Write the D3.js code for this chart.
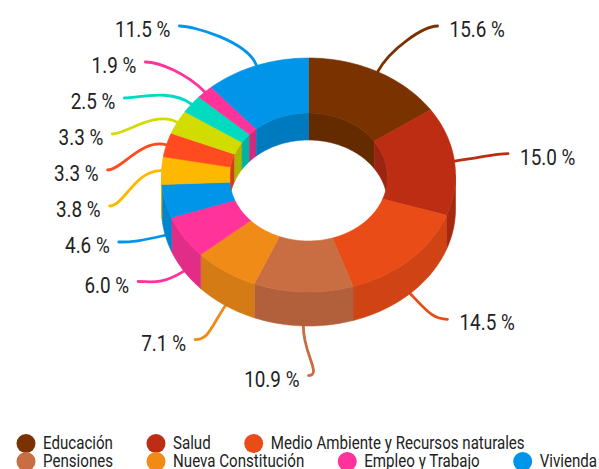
<!DOCTYPE html>
<html>
<head>
<meta charset="utf-8">
<script src="https://cdn.jsdelivr.net/npm/d3@7"></script>
<style>
body{margin:0;background:#fff;}
svg{display:block;font-family:Roboto,"Noto Sans",sans-serif;}
</style>
</head>
<body>
<svg id="chart" width="599" height="469"></svg>
<script>
// share of each slice in %, clockwise from 12 o'clock
var shares = [15.6, 15.0, 14.5, 10.9, 7.1, 6.0, 4.6, 3.8, 3.3, 3.3, 2.5, 1.9, 11.5];
// legend names (only the first rows of the legend fit in the picture)
var categories = ["Educación", "Salud", "Medio Ambiente y Recursos naturales",
                  "Pensiones", "Nueva Constitución", "Empleo y Trabajo", "Vivienda"];
var colors = ["#7a3300", "#bd2d13", "#ea4c17", "#c96d43", "#f08b18", "#ff3399", "#0095e8",
              "#ffb800", "#ff4b1f", "#d2dc00", "#00dac0", "#ff3399", "#0095e8"];

var svg = d3.select("#chart");
var cx = 308.5;
var outer = {rx: 147, ry: 117, cy: 175};
var inner = {rx: 79, ry: 64, cy: 177};
var depth = 34, innerDepth = 27;
var squeeze = 0.84;   // the font in the picture is a condensed one
var ink = "#222";

var color = d3.scaleOrdinal().domain(d3.range(shares.length)).range(colors);
var fmt = d3.format(".1f");

var pie = d3.pie().sort(null).value(function(d){ return d; });
var arcs = pie(shares);

var pt = function(a, e, dy)
{
    return [cx + e.rx * Math.sin(a), e.cy - e.ry * Math.cos(a) + (dy || 0)];
}
var arcPts = function(a0, a1, e, dy)
{
    var n = Math.max(2, Math.ceil(Math.abs(a1 - a0) * 40));
    return d3.range(n + 1).map(function(i){ return pt(a0 + (a1 - a0) * i / n, e, dy); });
}
var band = function(a0, a1, e, dy)
{
    return "M" + arcPts(a0, a1, e, 0).concat(arcPts(a1, a0, e, dy)).join("L") + "Z";
}

// ---- label layout: points on a circle round the donut, pushed apart per side
var lab = {cy: 177, rx: 201, ry: 197, top: 26, gap: 36};
var labels = arcs.map(function(d, i)
{
    var m = (d.startAngle + d.endAngle) / 2;
    var lower = Math.cos(m) < 0;
    return {
        i: i, m: m,
        side: Math.sin(m) >= 0 ? 1 : -1,
        start: pt(m, outer, lower ? depth : 0),
        y: Math.max(lab.top, lab.cy - lab.ry * Math.cos(m))
    };
});
[1, -1].forEach(function(side)
{
    var list = labels.filter(function(l){ return l.side == side; })
                     .sort(function(a, b){ return a.y - b.y; });
    for (var k = 1; k < list.length; k++)
    {
        list[k].y = Math.max(list[k].y, list[k - 1].y + lab.gap);
    }
});
labels.forEach(function(l)
{
    var t = (l.y - lab.cy) / lab.ry;
    l.x = cx + l.side * lab.rx * Math.sqrt(Math.max(0, 1 - t * t));
});

// leader lines go first, the donut covers their inner ends
var leaders = svg.append("g");
labels.forEach(function(l)
{
    var p0 = [l.x, l.y];
    var p1 = [l.x - l.side * 14, l.y];
    var p3 = l.start;
    var p2 = [p3[0] + Math.sin(l.m) * 26, p3[1] - Math.cos(l.m) * 26];
    var p = d3.path();
    p.moveTo(p0[0], p0[1]);
    p.bezierCurveTo(p1[0], p1[1], p2[0], p2[1], p3[0], p3[1]);
    leaders.append("path")
        .attr("d", p.toString())
        .attr("fill", "none")
        .attr("stroke", color(l.i))
        .attr("stroke-width", 2.8)
        .attr("stroke-linecap", "round");
});

// ---- donut
var donut = svg.append("g");
var HALF = Math.PI / 2;

// outer side wall (front half)
arcs.forEach(function(d, i)
{
    var a = Math.max(d.startAngle, HALF), b = Math.min(d.endAngle, 3 * HALF);
    if (a < b)
    {
        var c = d3.color(color(i)).darker(0.35).formatHex();
        donut.append("path").attr("d", band(a, b, outer, depth))
            .attr("fill", c).attr("stroke", c).attr("stroke-width", 0.6);
    }
});

// inner wall (back half of the hole)
arcs.forEach(function(d, i)
{
    [[0, HALF], [3 * HALF, 4 * HALF]].forEach(function(r)
    {
        var a = Math.max(d.startAngle, r[0]), b = Math.min(d.endAngle, r[1]);
        if (a < b)
        {
            var c = d3.color(color(i)).darker(0.55).formatHex();
            donut.append("path").attr("d", band(a, b, inner, innerDepth))
                .attr("fill", c).attr("stroke", c).attr("stroke-width", 0.6);
        }
    });
});

// top faces
arcs.forEach(function(d, i)
{
    var pts = arcPts(d.startAngle, d.endAngle, outer).concat(arcPts(d.endAngle, d.startAngle, inner));
    donut.append("path").attr("d", "M" + pts.join("L") + "Z")
        .attr("fill", color(i)).attr("stroke", color(i)).attr("stroke-width", 0.6);
});

// ---- percentage labels
labels.forEach(function(l)
{
    var tx = l.side > 0 ? l.x + 12 : l.x - 9;
    svg.append("g")
        .attr("transform", "translate(" + tx + "," + (l.y + 11) + ") scale(" + squeeze + ",1)")
        .append("text")
        .attr("text-anchor", l.side > 0 ? "start" : "end")
        .attr("font-size", 22.5)
        .attr("fill", ink)
        .text(fmt(shares[l.i]) + " %");
});

// ---- legend (flows into rows)
var legend = svg.append("g");
var lx = 16.5, row = 0, rowY = [443.5, 461.5];
categories.forEach(function(name, i)
{
    var item = legend.append("g");
    item.append("circle").attr("cx", 9.5).attr("cy", 0).attr("r", 9.5).attr("fill", color(i));
    var t = item.append("g")
        .attr("transform", "translate(26.5,5.5) scale(" + squeeze + ",1)")
        .append("text")
        .attr("font-size", 18)
        .attr("fill", ink)
        .text(name);
    var w = 26.5 + t.node().getComputedTextLength() * squeeze;
    if (lx + w > 601)
    {
        row += 1;
        lx = 16.5;
    }
    item.attr("transform", "translate(" + lx + "," + (rowY[row] || (rowY[1] + 18 * (row - 1))) + ")");
    lx += w + 33.5;
});
</script>
</body>
</html>
